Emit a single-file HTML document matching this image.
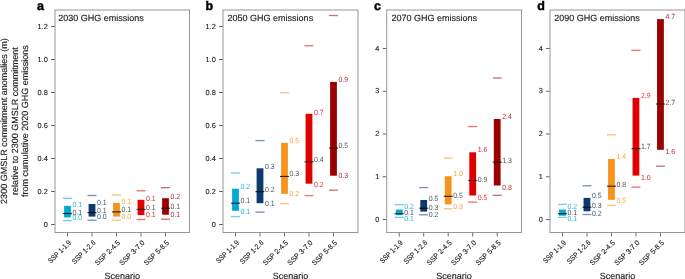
<!DOCTYPE html>
<html><head><meta charset="utf-8"><style>
html,body{margin:0;padding:0;background:#fff;}
body{width:685px;height:279px;overflow:hidden;}
svg{display:block;will-change:transform;}
text{font-family:"Liberation Sans", sans-serif;text-rendering:geometricPrecision;}
.pl{font-size:12.5px;font-weight:bold;fill:#000;stroke:#000;stroke-width:0.45px;}
.ti{font-size:9px;fill:#222;stroke:#222;stroke-width:0.15px;}
.tl{font-size:7.3px;fill:#222;stroke:#222;stroke-width:0.12px;}
.xl{font-size:9px;fill:#222;stroke:#222;stroke-width:0.15px;}
.yl{font-size:9px;fill:#222;stroke:#222;stroke-width:0.15px;}
.vl{font-size:7.5px;fill-opacity:0.85;}
.tk{stroke:#555;stroke-width:0.9;}
</style></head><body>
<svg width="685" height="279" viewBox="0 0 685 279">
<text x="37" y="10" class="pl">a</text>
<text x="58.2" y="21.0" class="ti">2030 GHG emissions</text>
<line x1="51" x2="55" y1="224.5" y2="224.5" class="tk"/>
<text transform="translate(47.7,226.7)" class="tl" text-anchor="end">0</text>
<line x1="51" x2="55" y1="191.5" y2="191.5" class="tk"/>
<text transform="translate(47.7,193.7)" class="tl" text-anchor="end">0.2</text>
<line x1="51" x2="55" y1="158.5" y2="158.5" class="tk"/>
<text transform="translate(47.7,160.7)" class="tl" text-anchor="end">0.4</text>
<line x1="51" x2="55" y1="125.5" y2="125.5" class="tk"/>
<text transform="translate(47.7,127.7)" class="tl" text-anchor="end">0.6</text>
<line x1="51" x2="55" y1="92.5" y2="92.5" class="tk"/>
<text transform="translate(47.7,94.7)" class="tl" text-anchor="end">0.8</text>
<line x1="51" x2="55" y1="59.5" y2="59.5" class="tk"/>
<text transform="translate(47.7,61.7)" class="tl" text-anchor="end">1.0</text>
<line x1="51" x2="55" y1="26.5" y2="26.5" class="tk"/>
<text transform="translate(47.7,28.7)" class="tl" text-anchor="end">1.2</text>
<line x1="67.5" x2="67.5" y1="232.5" y2="236.5" class="tk"/>
<text transform="translate(71.6,243.1) rotate(-45) scale(0.88,1)" class="tl" text-anchor="end">SSP 1-1.9</text>
<line x1="92" x2="92" y1="232.5" y2="236.5" class="tk"/>
<text transform="translate(96.1,243.1) rotate(-45) scale(0.91,1)" class="tl" text-anchor="end">SSP 1-2.6</text>
<line x1="116.5" x2="116.5" y1="232.5" y2="236.5" class="tk"/>
<text transform="translate(120.6,243.1) rotate(-45) scale(0.97,1)" class="tl" text-anchor="end">SSP 2-4.5</text>
<line x1="141" x2="141" y1="232.5" y2="236.5" class="tk"/>
<text transform="translate(145.1,243.1) rotate(-45) scale(0.97,1)" class="tl" text-anchor="end">SSP 3-7.0</text>
<line x1="165.5" x2="165.5" y1="232.5" y2="236.5" class="tk"/>
<text transform="translate(169.6,243.1) rotate(-45) scale(0.97,1)" class="tl" text-anchor="end">SSP 5-8.5</text>
<text x="122.25" y="278.6" class="xl" text-anchor="middle">Scenario</text>
<line x1="63" x2="72" y1="198.3" y2="198.3" stroke="#00a9d1" stroke-opacity="0.55" stroke-width="1.35"/>
<line x1="63" x2="72" y1="220.6" y2="220.6" stroke="#00a9d1" stroke-opacity="0.55" stroke-width="1.35"/>
<rect x="64.1" y="205.9" width="6.8" height="11.5" fill="#00a9d1"/>
<line x1="63" x2="72" y1="213.5" y2="213.5" stroke="#000" stroke-opacity="0.8" stroke-width="1.15"/>
<text transform="translate(72.5,206.6) scale(0.93,1)" class="vl" fill="#00a9d1">0.1</text>
<text transform="translate(72.5,214.9) scale(0.93,1)" class="vl" fill="#333">0.1</text>
<text transform="translate(72.5,219.6) scale(0.93,1)" class="vl" fill="#00a9d1">0.0</text>
<line x1="87.5" x2="96.5" y1="195.5" y2="195.5" stroke="#0b3a6f" stroke-opacity="0.55" stroke-width="1.35"/>
<line x1="87.5" x2="96.5" y1="220.2" y2="220.2" stroke="#0b3a6f" stroke-opacity="0.55" stroke-width="1.35"/>
<rect x="88.6" y="204" width="6.8" height="12.6" fill="#0b3a6f"/>
<line x1="87.5" x2="96.5" y1="212.6" y2="212.6" stroke="#000" stroke-opacity="0.8" stroke-width="1.15"/>
<text transform="translate(97,204.8) scale(0.93,1)" class="vl" fill="#0b3a6f">0.1</text>
<text transform="translate(97,212.6) scale(0.93,1)" class="vl" fill="#333">0.1</text>
<text transform="translate(97,219.3) scale(0.93,1)" class="vl" fill="#0b3a6f">0.0</text>
<line x1="112" x2="121" y1="195.1" y2="195.1" stroke="#f7941e" stroke-opacity="0.55" stroke-width="1.35"/>
<line x1="112" x2="121" y1="220.2" y2="220.2" stroke="#f7941e" stroke-opacity="0.55" stroke-width="1.35"/>
<rect x="113.1" y="202.9" width="6.8" height="13.7" fill="#f7941e"/>
<line x1="112" x2="121" y1="211.9" y2="211.9" stroke="#000" stroke-opacity="0.8" stroke-width="1.15"/>
<text transform="translate(121.5,204.3) scale(0.93,1)" class="vl" fill="#f7941e">0.1</text>
<text transform="translate(121.5,212) scale(0.93,1)" class="vl" fill="#333">0.1</text>
<text transform="translate(121.5,218.9) scale(0.93,1)" class="vl" fill="#f7941e">0.0</text>
<line x1="136.5" x2="145.5" y1="190.8" y2="190.8" stroke="#e00000" stroke-opacity="0.55" stroke-width="1.35"/>
<line x1="136.5" x2="145.5" y1="219.5" y2="219.5" stroke="#e00000" stroke-opacity="0.55" stroke-width="1.35"/>
<rect x="137.6" y="199.8" width="6.8" height="15.3" fill="#e00000"/>
<line x1="136.5" x2="145.5" y1="209.4" y2="209.4" stroke="#000" stroke-opacity="0.8" stroke-width="1.15"/>
<text transform="translate(146,200.8) scale(0.93,1)" class="vl" fill="#e00000">0.1</text>
<text transform="translate(146,209.8) scale(0.93,1)" class="vl" fill="#333">0.1</text>
<text transform="translate(146,217.4) scale(0.93,1)" class="vl" fill="#e00000">0.1</text>
<line x1="161" x2="170" y1="187.7" y2="187.7" stroke="#9b0000" stroke-opacity="0.55" stroke-width="1.35"/>
<line x1="161" x2="170" y1="219.2" y2="219.2" stroke="#9b0000" stroke-opacity="0.55" stroke-width="1.35"/>
<rect x="162.1" y="198.2" width="6.8" height="16.5" fill="#9b0000"/>
<line x1="161" x2="170" y1="208.2" y2="208.2" stroke="#000" stroke-opacity="0.8" stroke-width="1.15"/>
<text transform="translate(170.5,198.8) scale(0.93,1)" class="vl" fill="#9b0000">0.2</text>
<text transform="translate(170.5,209.4) scale(0.93,1)" class="vl" fill="#333">0.1</text>
<text transform="translate(170.5,217.3) scale(0.93,1)" class="vl" fill="#9b0000">0.1</text>
<rect x="55" y="10" width="134.5" height="222.5" fill="none" stroke="#959595" stroke-width="1"/>
<text x="205.6" y="10" class="pl">b</text>
<text x="227.6" y="21.0" class="ti">2050 GHG emissions</text>
<line x1="219" x2="223" y1="224.5" y2="224.5" class="tk"/>
<text transform="translate(215.7,226.7)" class="tl" text-anchor="end">0</text>
<line x1="219" x2="223" y1="191.5" y2="191.5" class="tk"/>
<text transform="translate(215.7,193.7)" class="tl" text-anchor="end">0.2</text>
<line x1="219" x2="223" y1="158.5" y2="158.5" class="tk"/>
<text transform="translate(215.7,160.7)" class="tl" text-anchor="end">0.4</text>
<line x1="219" x2="223" y1="125.5" y2="125.5" class="tk"/>
<text transform="translate(215.7,127.7)" class="tl" text-anchor="end">0.6</text>
<line x1="219" x2="223" y1="92.5" y2="92.5" class="tk"/>
<text transform="translate(215.7,94.7)" class="tl" text-anchor="end">0.8</text>
<line x1="219" x2="223" y1="59.5" y2="59.5" class="tk"/>
<text transform="translate(215.7,61.7)" class="tl" text-anchor="end">1.0</text>
<line x1="219" x2="223" y1="26.5" y2="26.5" class="tk"/>
<text transform="translate(215.7,28.7)" class="tl" text-anchor="end">1.2</text>
<line x1="235.5" x2="235.5" y1="232.5" y2="236.5" class="tk"/>
<text transform="translate(239.6,243.1) rotate(-45) scale(0.88,1)" class="tl" text-anchor="end">SSP 1-1.9</text>
<line x1="260" x2="260" y1="232.5" y2="236.5" class="tk"/>
<text transform="translate(264.1,243.1) rotate(-45) scale(0.91,1)" class="tl" text-anchor="end">SSP 1-2.6</text>
<line x1="284.5" x2="284.5" y1="232.5" y2="236.5" class="tk"/>
<text transform="translate(288.6,243.1) rotate(-45) scale(0.97,1)" class="tl" text-anchor="end">SSP 2-4.5</text>
<line x1="309" x2="309" y1="232.5" y2="236.5" class="tk"/>
<text transform="translate(313.1,243.1) rotate(-45) scale(0.97,1)" class="tl" text-anchor="end">SSP 3-7.0</text>
<line x1="333.5" x2="333.5" y1="232.5" y2="236.5" class="tk"/>
<text transform="translate(337.6,243.1) rotate(-45) scale(0.97,1)" class="tl" text-anchor="end">SSP 5-8.5</text>
<text x="290.5" y="278.6" class="xl" text-anchor="middle">Scenario</text>
<line x1="231" x2="240" y1="173" y2="173" stroke="#00a9d1" stroke-opacity="0.55" stroke-width="1.35"/>
<line x1="231" x2="240" y1="216.6" y2="216.6" stroke="#00a9d1" stroke-opacity="0.55" stroke-width="1.35"/>
<rect x="232.1" y="188.7" width="6.8" height="22.1" fill="#00a9d1"/>
<line x1="231" x2="240" y1="203.2" y2="203.2" stroke="#000" stroke-opacity="0.8" stroke-width="1.15"/>
<text transform="translate(240.5,189.1) scale(0.93,1)" class="vl" fill="#00a9d1">0.2</text>
<text transform="translate(240.5,203.4) scale(0.93,1)" class="vl" fill="#333">0.1</text>
<text transform="translate(240.5,213.8) scale(0.93,1)" class="vl" fill="#00a9d1">0.1</text>
<line x1="255.5" x2="264.5" y1="140.6" y2="140.6" stroke="#0b3a6f" stroke-opacity="0.55" stroke-width="1.35"/>
<line x1="255.5" x2="264.5" y1="212.1" y2="212.1" stroke="#0b3a6f" stroke-opacity="0.55" stroke-width="1.35"/>
<rect x="256.6" y="168.3" width="6.8" height="34.9" fill="#0b3a6f"/>
<line x1="255.5" x2="264.5" y1="191.6" y2="191.6" stroke="#000" stroke-opacity="0.8" stroke-width="1.15"/>
<text transform="translate(265,169.2) scale(0.93,1)" class="vl" fill="#0b3a6f">0.3</text>
<text transform="translate(265,191.8) scale(0.93,1)" class="vl" fill="#333">0.2</text>
<text transform="translate(265,205.8) scale(0.93,1)" class="vl" fill="#0b3a6f">0.1</text>
<line x1="280" x2="289" y1="92.6" y2="92.6" stroke="#f7941e" stroke-opacity="0.55" stroke-width="1.35"/>
<line x1="280" x2="289" y1="203.6" y2="203.6" stroke="#f7941e" stroke-opacity="0.55" stroke-width="1.35"/>
<rect x="281.1" y="142.9" width="6.8" height="50.95" fill="#f7941e"/>
<line x1="280" x2="289" y1="176.4" y2="176.4" stroke="#000" stroke-opacity="0.8" stroke-width="1.15"/>
<text transform="translate(289.5,143.4) scale(0.93,1)" class="vl" fill="#f7941e">0.5</text>
<text transform="translate(289.5,176.2) scale(0.93,1)" class="vl" fill="#333">0.3</text>
<text transform="translate(289.5,195.9) scale(0.93,1)" class="vl" fill="#f7941e">0.2</text>
<line x1="304.5" x2="313.5" y1="45.7" y2="45.7" stroke="#e00000" stroke-opacity="0.55" stroke-width="1.35"/>
<line x1="304.5" x2="313.5" y1="195.6" y2="195.6" stroke="#e00000" stroke-opacity="0.55" stroke-width="1.35"/>
<rect x="305.6" y="113.8" width="6.8" height="69.9" fill="#e00000"/>
<line x1="304.5" x2="313.5" y1="161.8" y2="161.8" stroke="#000" stroke-opacity="0.8" stroke-width="1.15"/>
<text transform="translate(314,114.6) scale(0.93,1)" class="vl" fill="#e00000">0.7</text>
<text transform="translate(314,162.4) scale(0.93,1)" class="vl" fill="#333">0.4</text>
<text transform="translate(314,186.7) scale(0.93,1)" class="vl" fill="#e00000">0.2</text>
<line x1="329" x2="338" y1="15.5" y2="15.5" stroke="#9b0000" stroke-opacity="0.55" stroke-width="1.35"/>
<line x1="329" x2="338" y1="190.2" y2="190.2" stroke="#9b0000" stroke-opacity="0.55" stroke-width="1.35"/>
<rect x="330.1" y="81.9" width="6.8" height="93.8" fill="#9b0000"/>
<line x1="329" x2="338" y1="148.1" y2="148.1" stroke="#000" stroke-opacity="0.8" stroke-width="1.15"/>
<text transform="translate(338.5,82.2) scale(0.93,1)" class="vl" fill="#9b0000">0.9</text>
<text transform="translate(338.5,148.3) scale(0.93,1)" class="vl" fill="#333">0.5</text>
<text transform="translate(338.5,177.9) scale(0.93,1)" class="vl" fill="#9b0000">0.3</text>
<rect x="223" y="10" width="135" height="222.5" fill="none" stroke="#959595" stroke-width="1"/>
<text x="374" y="10" class="pl">c</text>
<text x="391.5" y="21.0" class="ti">2070 GHG emissions</text>
<line x1="382.7" x2="386.7" y1="219.5" y2="219.5" class="tk"/>
<text transform="translate(379.4,221.7)" class="tl" text-anchor="end">0</text>
<line x1="382.7" x2="386.7" y1="176.75" y2="176.75" class="tk"/>
<text transform="translate(379.4,178.95)" class="tl" text-anchor="end">1</text>
<line x1="382.7" x2="386.7" y1="134" y2="134" class="tk"/>
<text transform="translate(379.4,136.2)" class="tl" text-anchor="end">2</text>
<line x1="382.7" x2="386.7" y1="91.25" y2="91.25" class="tk"/>
<text transform="translate(379.4,93.45)" class="tl" text-anchor="end">3</text>
<line x1="382.7" x2="386.7" y1="48.5" y2="48.5" class="tk"/>
<text transform="translate(379.4,50.7)" class="tl" text-anchor="end">4</text>
<line x1="399.2" x2="399.2" y1="232.5" y2="236.5" class="tk"/>
<text transform="translate(403.3,243.1) rotate(-45) scale(0.88,1)" class="tl" text-anchor="end">SSP 1-1.9</text>
<line x1="423.7" x2="423.7" y1="232.5" y2="236.5" class="tk"/>
<text transform="translate(427.8,243.1) rotate(-45) scale(0.91,1)" class="tl" text-anchor="end">SSP 1-2.6</text>
<line x1="448.2" x2="448.2" y1="232.5" y2="236.5" class="tk"/>
<text transform="translate(452.3,243.1) rotate(-45) scale(0.97,1)" class="tl" text-anchor="end">SSP 2-4.5</text>
<line x1="472.7" x2="472.7" y1="232.5" y2="236.5" class="tk"/>
<text transform="translate(476.8,243.1) rotate(-45) scale(0.97,1)" class="tl" text-anchor="end">SSP 3-7.0</text>
<line x1="497.2" x2="497.2" y1="232.5" y2="236.5" class="tk"/>
<text transform="translate(501.3,243.1) rotate(-45) scale(0.97,1)" class="tl" text-anchor="end">SSP 5-8.5</text>
<text x="454.1" y="278.6" class="xl" text-anchor="middle">Scenario</text>
<line x1="394.7" x2="403.7" y1="204.6" y2="204.6" stroke="#00a9d1" stroke-opacity="0.55" stroke-width="1.35"/>
<line x1="394.7" x2="403.7" y1="217.4" y2="217.4" stroke="#00a9d1" stroke-opacity="0.55" stroke-width="1.35"/>
<rect x="395.8" y="209.6" width="6.8" height="5.6" fill="#00a9d1"/>
<line x1="394.7" x2="403.7" y1="213.7" y2="213.7" stroke="#000" stroke-opacity="0.8" stroke-width="1.15"/>
<text transform="translate(404.2,208.9) scale(0.93,1)" class="vl" fill="#00a9d1">0.2</text>
<text transform="translate(404.2,215.3) scale(0.93,1)" class="vl" fill="#333">0.1</text>
<text transform="translate(404.2,221.3) scale(0.93,1)" class="vl" fill="#00a9d1">0.1</text>
<line x1="419.2" x2="428.2" y1="187.6" y2="187.6" stroke="#0b3a6f" stroke-opacity="0.55" stroke-width="1.35"/>
<line x1="419.2" x2="428.2" y1="214.8" y2="214.8" stroke="#0b3a6f" stroke-opacity="0.55" stroke-width="1.35"/>
<rect x="420.3" y="200" width="6.8" height="11.6" fill="#0b3a6f"/>
<line x1="419.2" x2="428.2" y1="208.2" y2="208.2" stroke="#000" stroke-opacity="0.8" stroke-width="1.15"/>
<text transform="translate(428.7,200.9) scale(0.93,1)" class="vl" fill="#0b3a6f">0.5</text>
<text transform="translate(428.7,209.9) scale(0.93,1)" class="vl" fill="#333">0.3</text>
<text transform="translate(428.7,216.5) scale(0.93,1)" class="vl" fill="#0b3a6f">0.2</text>
<line x1="443.7" x2="452.7" y1="158.1" y2="158.1" stroke="#f7941e" stroke-opacity="0.55" stroke-width="1.35"/>
<line x1="443.7" x2="452.7" y1="208.8" y2="208.8" stroke="#f7941e" stroke-opacity="0.55" stroke-width="1.35"/>
<rect x="444.8" y="176.2" width="6.8" height="28.2" fill="#f7941e"/>
<line x1="443.7" x2="452.7" y1="196.3" y2="196.3" stroke="#000" stroke-opacity="0.8" stroke-width="1.15"/>
<text transform="translate(453.2,175.8) scale(0.93,1)" class="vl" fill="#f7941e">1.0</text>
<text transform="translate(453.2,198) scale(0.93,1)" class="vl" fill="#333">0.5</text>
<text transform="translate(453.2,208.6) scale(0.93,1)" class="vl" fill="#f7941e">0.3</text>
<line x1="468.2" x2="477.2" y1="126.55" y2="126.55" stroke="#e00000" stroke-opacity="0.55" stroke-width="1.35"/>
<line x1="468.2" x2="477.2" y1="202.1" y2="202.1" stroke="#e00000" stroke-opacity="0.55" stroke-width="1.35"/>
<rect x="469.3" y="152.3" width="6.8" height="43.2" fill="#e00000"/>
<line x1="468.2" x2="477.2" y1="180.5" y2="180.5" stroke="#000" stroke-opacity="0.8" stroke-width="1.15"/>
<text transform="translate(477.7,152.3) scale(0.93,1)" class="vl" fill="#e00000">1.6</text>
<text transform="translate(477.7,181.7) scale(0.93,1)" class="vl" fill="#333">0.9</text>
<text transform="translate(477.7,199.8) scale(0.93,1)" class="vl" fill="#e00000">0.5</text>
<line x1="492.7" x2="501.7" y1="78" y2="78" stroke="#9b0000" stroke-opacity="0.55" stroke-width="1.35"/>
<line x1="492.7" x2="501.7" y1="195.3" y2="195.3" stroke="#9b0000" stroke-opacity="0.55" stroke-width="1.35"/>
<rect x="493.8" y="119" width="6.8" height="66.5" fill="#9b0000"/>
<line x1="492.7" x2="501.7" y1="162.2" y2="162.2" stroke="#000" stroke-opacity="0.8" stroke-width="1.15"/>
<text transform="translate(502.2,118.8) scale(0.93,1)" class="vl" fill="#9b0000">2.4</text>
<text transform="translate(502.2,163.4) scale(0.93,1)" class="vl" fill="#333">1.3</text>
<text transform="translate(502.2,190.2) scale(0.93,1)" class="vl" fill="#9b0000">0.8</text>
<rect x="386.7" y="10" width="134.8" height="222.5" fill="none" stroke="#959595" stroke-width="1"/>
<text x="537.2" y="10" class="pl">d</text>
<text x="554.2" y="21.0" class="ti">2090 GHG emissions</text>
<line x1="546" x2="550" y1="219.5" y2="219.5" class="tk"/>
<text transform="translate(542.7,221.7)" class="tl" text-anchor="end">0</text>
<line x1="546" x2="550" y1="176.75" y2="176.75" class="tk"/>
<text transform="translate(542.7,178.95)" class="tl" text-anchor="end">1</text>
<line x1="546" x2="550" y1="134" y2="134" class="tk"/>
<text transform="translate(542.7,136.2)" class="tl" text-anchor="end">2</text>
<line x1="546" x2="550" y1="91.25" y2="91.25" class="tk"/>
<text transform="translate(542.7,93.45)" class="tl" text-anchor="end">3</text>
<line x1="546" x2="550" y1="48.5" y2="48.5" class="tk"/>
<text transform="translate(542.7,50.7)" class="tl" text-anchor="end">4</text>
<line x1="562.45" x2="562.45" y1="232.5" y2="236.5" class="tk"/>
<text transform="translate(566.55,243.1) rotate(-45) scale(0.88,1)" class="tl" text-anchor="end">SSP 1-1.9</text>
<line x1="586.95" x2="586.95" y1="232.5" y2="236.5" class="tk"/>
<text transform="translate(591.05,243.1) rotate(-45) scale(0.91,1)" class="tl" text-anchor="end">SSP 1-2.6</text>
<line x1="611.45" x2="611.45" y1="232.5" y2="236.5" class="tk"/>
<text transform="translate(615.55,243.1) rotate(-45) scale(0.97,1)" class="tl" text-anchor="end">SSP 2-4.5</text>
<line x1="635.95" x2="635.95" y1="232.5" y2="236.5" class="tk"/>
<text transform="translate(640.05,243.1) rotate(-45) scale(0.97,1)" class="tl" text-anchor="end">SSP 3-7.0</text>
<line x1="660.45" x2="660.45" y1="232.5" y2="236.5" class="tk"/>
<text transform="translate(664.55,243.1) rotate(-45) scale(0.97,1)" class="tl" text-anchor="end">SSP 5-8.5</text>
<text x="617.5" y="278.6" class="xl" text-anchor="middle">Scenario</text>
<line x1="557.95" x2="566.95" y1="204.4" y2="204.4" stroke="#00a9d1" stroke-opacity="0.55" stroke-width="1.35"/>
<line x1="557.95" x2="566.95" y1="217.4" y2="217.4" stroke="#00a9d1" stroke-opacity="0.55" stroke-width="1.35"/>
<rect x="559.05" y="209.6" width="6.8" height="6.1" fill="#00a9d1"/>
<line x1="557.95" x2="566.95" y1="213.7" y2="213.7" stroke="#000" stroke-opacity="0.8" stroke-width="1.15"/>
<text transform="translate(567.45,208.8) scale(0.93,1)" class="vl" fill="#00a9d1">0.2</text>
<text transform="translate(567.45,215.3) scale(0.93,1)" class="vl" fill="#333">0.1</text>
<text transform="translate(567.45,221.3) scale(0.93,1)" class="vl" fill="#00a9d1">0.1</text>
<line x1="582.45" x2="591.45" y1="185.8" y2="185.8" stroke="#0b3a6f" stroke-opacity="0.55" stroke-width="1.35"/>
<line x1="582.45" x2="591.45" y1="214.5" y2="214.5" stroke="#0b3a6f" stroke-opacity="0.55" stroke-width="1.35"/>
<rect x="583.55" y="197.9" width="6.8" height="13.4" fill="#0b3a6f"/>
<line x1="582.45" x2="591.45" y1="207.2" y2="207.2" stroke="#000" stroke-opacity="0.8" stroke-width="1.15"/>
<text transform="translate(591.95,198.4) scale(0.93,1)" class="vl" fill="#0b3a6f">0.5</text>
<text transform="translate(591.95,208.4) scale(0.93,1)" class="vl" fill="#333">0.3</text>
<text transform="translate(591.95,215.9) scale(0.93,1)" class="vl" fill="#0b3a6f">0.2</text>
<line x1="606.95" x2="615.95" y1="134.8" y2="134.8" stroke="#f7941e" stroke-opacity="0.55" stroke-width="1.35"/>
<line x1="606.95" x2="615.95" y1="205.3" y2="205.3" stroke="#f7941e" stroke-opacity="0.55" stroke-width="1.35"/>
<rect x="608.05" y="159" width="6.8" height="40.8" fill="#f7941e"/>
<line x1="606.95" x2="615.95" y1="186.2" y2="186.2" stroke="#000" stroke-opacity="0.8" stroke-width="1.15"/>
<text transform="translate(616.45,159.4) scale(0.93,1)" class="vl" fill="#f7941e">1.4</text>
<text transform="translate(616.45,187.4) scale(0.93,1)" class="vl" fill="#333">0.8</text>
<text transform="translate(616.45,203.1) scale(0.93,1)" class="vl" fill="#f7941e">0.5</text>
<line x1="631.45" x2="640.45" y1="50.4" y2="50.4" stroke="#e00000" stroke-opacity="0.55" stroke-width="1.35"/>
<line x1="631.45" x2="640.45" y1="187.1" y2="187.1" stroke="#e00000" stroke-opacity="0.55" stroke-width="1.35"/>
<rect x="632.55" y="97.9" width="6.8" height="77.7" fill="#e00000"/>
<line x1="631.45" x2="640.45" y1="148.6" y2="148.6" stroke="#000" stroke-opacity="0.8" stroke-width="1.15"/>
<text transform="translate(640.95,97.7) scale(0.93,1)" class="vl" fill="#e00000">2.9</text>
<text transform="translate(640.95,149.4) scale(0.93,1)" class="vl" fill="#333">1.7</text>
<text transform="translate(640.95,179.5) scale(0.93,1)" class="vl" fill="#e00000">1.0</text>
<line x1="655.95" x2="664.95" y1="166.2" y2="166.2" stroke="#9b0000" stroke-opacity="0.55" stroke-width="1.35"/>
<rect x="657.05" y="19.1" width="6.8" height="130.7" fill="#9b0000"/>
<line x1="655.95" x2="664.95" y1="104" y2="104" stroke="#000" stroke-opacity="0.8" stroke-width="1.15"/>
<text transform="translate(665.45,19.2) scale(0.93,1)" class="vl" fill="#9b0000">4.7</text>
<text transform="translate(665.45,104.8) scale(0.93,1)" class="vl" fill="#333">2.7</text>
<text transform="translate(665.45,154.1) scale(0.93,1)" class="vl" fill="#9b0000">1.6</text>
<rect x="550" y="10" width="135" height="222.5" fill="none" stroke="#959595" stroke-width="1"/>
<text transform="translate(7,121.1) rotate(-90)" class="yl" text-anchor="middle">2300 GMSLR commitment anomalies (m)</text>
<text transform="translate(17.6,121.1) rotate(-90)" class="yl" text-anchor="middle">relative to 2300 GMSLR commitment</text>
<text transform="translate(27.8,121.1) rotate(-90)" class="yl" text-anchor="middle">from cumulative 2020 GHG emissions</text>
</svg>
</body></html>
